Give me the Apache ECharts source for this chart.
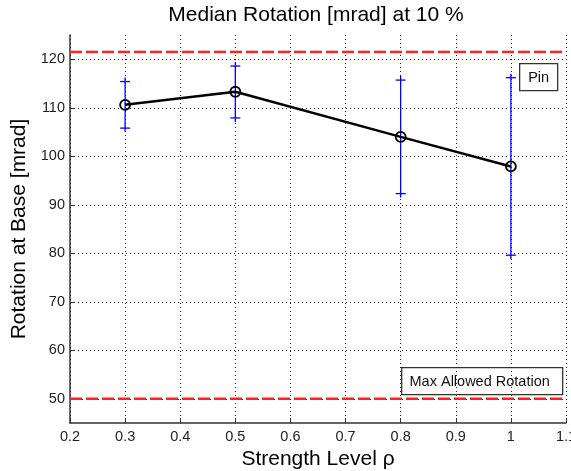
<!DOCTYPE html>
<html>
<head>
<meta charset="utf-8">
<script src="https://cdn.jsdelivr.net/npm/echarts@6/dist/echarts.min.js"></script>
<style>html,body{margin:0;padding:0;background:#fff;}#c{width:571px;height:471px;}</style>
</head>
<body>
<div id="c"></div>
<script>
var strength = [0.3, 0.5, 0.8, 1.0];
var medianRotation = [110.6, 113.3, 104.0, 97.9];
var errLow = [105.8, 107.9, 92.3, 79.6];
var errHigh = [115.4, 118.6, 115.7, 116.2];
var pinLimit = 121.5;
var maxAllowed = 50;
var xRange = [0.2, 1.1];
var yRange = [45, 125];
var yTicks = [50, 60, 70, 80, 90, 100, 110, 120];

var FONT = 'Liberation Sans, Arial, sans-serif';
var chart = echarts.init(document.getElementById('c'));

var errData = strength.map(function (x, i) { return [x, errLow[i], errHigh[i]]; });
var lineData = strength.map(function (x, i) { return [x, medianRotation[i]]; });

var option = {
  animation: false,
  backgroundColor: '#fff',
  title: {
    text: 'Median Rotation [mrad] at 10 %',
    left: 316, top: 5, textAlign: 'center', padding: 0,
    textStyle: { fontFamily: FONT, fontSize: 21, fontWeight: 'normal', color: '#000' }
  },
  grid: { left: 70, right: 5, top: 35, bottom: 48, containLabel: false, outerBoundsMode: 'none' },
  xAxis: {
    type: 'value', min: xRange[0], max: xRange[1], interval: 0.1,
    name: 'Strength Level ρ', nameLocation: 'middle', nameGap: 25,
    nameTextStyle: { fontFamily: FONT, fontSize: 21, color: '#000' },
    axisLine: { show: true, onZero: false, lineStyle: { color: '#333', width: 1.5 } },
    axisTick: { show: true, inside: true, length: 5, lineStyle: { color: '#333' } },
    axisLabel: { fontFamily: FONT, fontSize: 14.5, color: '#222', margin: 6,
      formatter: function (v) { return String(parseFloat(v.toFixed(1))); } },
    splitLine: { show: true, lineStyle: { color: '#222', type: [1, 3], width: 1 } }
  },
  yAxis: {
    type: 'value', min: yRange[0], max: yRange[1],
    name: 'Rotation at Base [mrad]', nameLocation: 'middle', nameGap: 35,
    nameTextStyle: { fontFamily: FONT, fontSize: 21, color: '#000' },
    axisLine: { show: true, lineStyle: { color: '#333', width: 1.5 } },
    axisTick: { show: true, inside: true, length: 5, lineStyle: { color: '#333' },
      customValues: yTicks },
    axisLabel: { fontFamily: FONT, fontSize: 14.5, color: '#222', margin: 5, customValues: yTicks },
    splitLine: { show: true, lineStyle: { color: '#222', type: [1, 3], width: 1 } }
  },
  series: [
    {
      type: 'line', name: 'pin', data: [[xRange[0], pinLimit], [xRange[1], pinLimit]],
      symbol: 'none', lineStyle: { color: '#ff2020', width: 2.5, type: [12, 4] }, z: 3
    },
    {
      type: 'line', name: 'max', data: [[xRange[0], maxAllowed], [xRange[1], maxAllowed]],
      symbol: 'none', lineStyle: { color: '#ff2020', width: 2.5, type: [12, 4] }, z: 3
    },
    {
      type: 'custom', name: 'err', data: errData, z: 4,
      renderItem: function (params, api) {
        var x = api.value(0);
        var lo = api.coord([x, api.value(1)]);
        var hi = api.coord([x, api.value(2)]);
        var w = 5, ext = 4;
        var st = { stroke: '#0000ff', lineWidth: 1.3, fill: null };
        return {
          type: 'group',
          children: [
            { type: 'line', shape: { x1: lo[0], y1: lo[1] + ext, x2: hi[0], y2: hi[1] - ext }, style: st },
            { type: 'line', shape: { x1: lo[0] - w, y1: lo[1], x2: lo[0] + w, y2: lo[1] }, style: st },
            { type: 'line', shape: { x1: hi[0] - w, y1: hi[1], x2: hi[0] + w, y2: hi[1] }, style: st }
          ]
        };
      }
    },
    {
      type: 'line', name: 'median', data: lineData, z: 5,
      symbol: 'circle', symbolSize: 10, showSymbol: true,
      itemStyle: { color: 'rgba(0,0,0,0)', borderColor: '#000', borderWidth: 1.8 },
      lineStyle: { color: '#000', width: 2.5 }
    }
  ],
  graphic: [
    {
      type: 'group', left: 519, top: 63,
      children: [
        { type: 'rect', shape: { x: 0, y: 0, width: 38, height: 27 },
          style: { fill: '#fff', stroke: '#333', lineWidth: 1.3 } },
        { type: 'text', style: { x: 19, y: 14, text: 'Pin', fontFamily: FONT, fontSize: 14.5,
          fill: '#111', align: 'center', verticalAlign: 'middle' } }
      ]
    },
    {
      type: 'group', left: 401, top: 367,
      children: [
        { type: 'rect', shape: { x: 0, y: 0, width: 161, height: 27 },
          style: { fill: '#fff', stroke: '#333', lineWidth: 1.3 } },
        { type: 'text', style: { x: 78, y: 14, text: 'Max Allowed Rotation', fontFamily: FONT, fontSize: 14.5,
          fill: '#111', align: 'center', verticalAlign: 'middle' } }
      ]
    }
  ]
};
chart.setOption(option);
</script>
</body>
</html>
